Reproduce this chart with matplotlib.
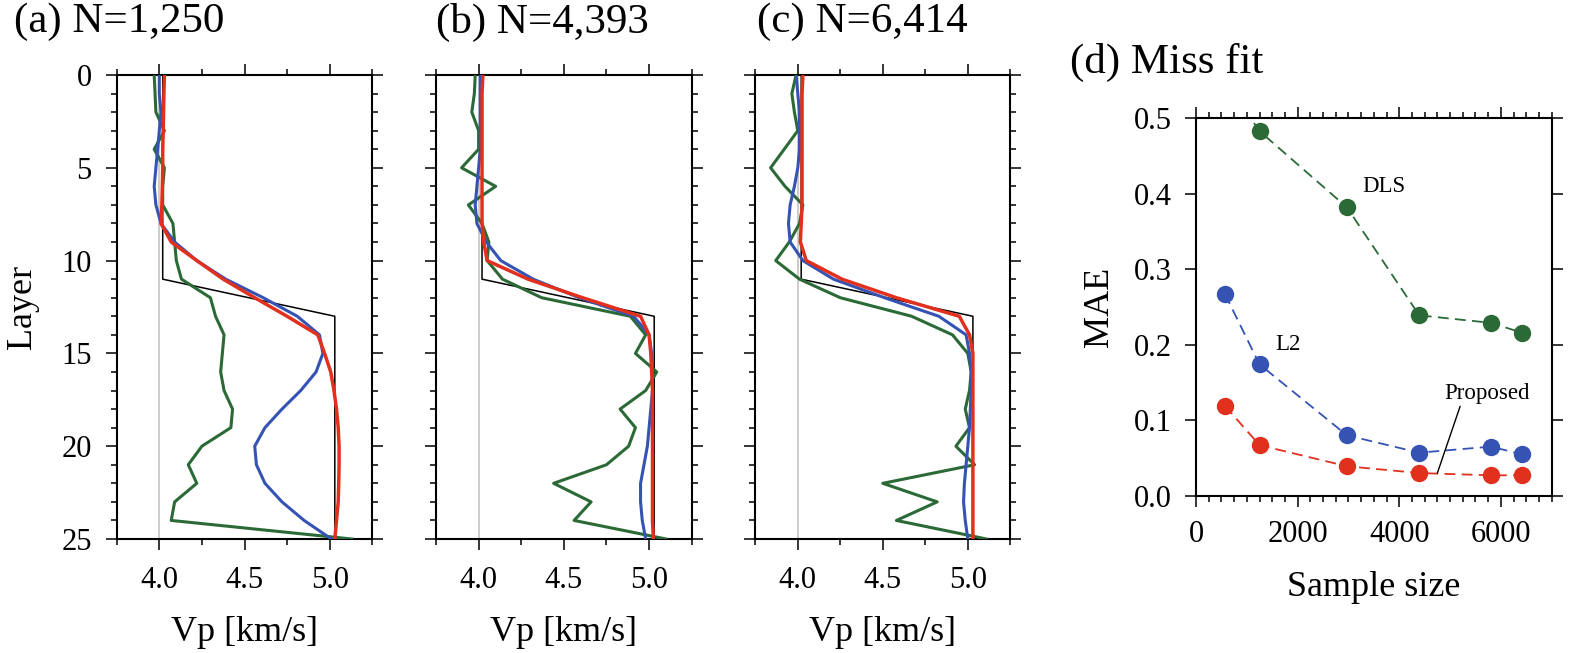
import matplotlib
matplotlib.use("Agg")
import matplotlib.pyplot as plt
from matplotlib.ticker import MultipleLocator, FormatStrFormatter
import numpy as np

plt.rcParams['font.family'] = ['Liberation Serif', 'DejaVu Serif']

# ---------------- data ----------------
layers = list(range(26))
true_vp = [4.02] * 12 + [4.525] + [5.03] * 13
init_vp = [4.0, 4.0]
init_layers = [0, 25]

titles = ["(a) N=1,250", "(b) N=4,393", "(c) N=6,414"]

dls_a = [3.97, 3.975, 3.98, 4.03, 3.97, 4.03, 4.02, 4.02, 4.08, 4.09, 4.10, 4.13, 4.30,
         4.33, 4.38, 4.37, 4.36, 4.38, 4.43, 4.42, 4.25, 4.17, 4.22, 4.09, 4.07, 5.13]
l2_a = [4.0, 4.0, 4.01, 4.0, 3.99, 3.98, 3.97, 3.98, 4.01, 4.09, 4.22, 4.39, 4.61,
        4.81, 4.94, 4.96, 4.92, 4.83, 4.72, 4.62, 4.56, 4.57, 4.62, 4.72, 4.85, 5.01]
prop_a = [4.03, 4.027, 4.025, 4.023, 4.02, 4.02, 4.018, 4.015, 4.01, 4.07, 4.22, 4.375, 4.56,
          4.75, 4.93, 4.97, 5.006, 5.025, 5.04, 5.05, 5.055, 5.055, 5.053, 5.05, 5.04, 5.03]

dls_b = [3.98, 3.975, 3.96, 4.0, 4.0, 3.90, 4.10, 3.94, 4.02, 4.06, 4.05, 4.14, 4.37,
         4.89, 4.98, 4.92, 5.045, 4.98, 4.83, 4.92, 4.88, 4.75, 4.44, 4.66, 4.56, 5.10]
l2_b = [4.01, 4.01, 4.01, 4.01, 4.01, 4.0, 3.99, 3.98, 3.99, 4.045, 4.13, 4.32, 4.59,
        4.91, 5.0, 5.015, 5.02, 5.02, 5.01, 5.0, 4.99, 4.97, 4.95, 4.95, 4.96, 4.98]
prop_b = [4.025, 4.02, 4.02, 4.02, 4.02, 4.02, 4.02, 4.02, 4.02, 4.03, 4.05, 4.29, 4.61,
          4.95, 5.0, 5.01, 5.015, 5.02, 5.02, 5.02, 5.02, 5.02, 5.02, 5.02, 5.02, 5.025]

dls_c = [3.99, 3.965, 3.98, 4.0, 3.92, 3.84, 3.925, 4.03, 4.01, 3.95, 3.87, 4.01, 4.25,
         4.67, 4.91, 5.0, 5.02, 5.01, 4.985, 5.01, 4.93, 5.04, 4.50, 4.82, 4.58, 5.11]
l2_c = [3.99, 4.0, 4.01, 4.01, 4.01, 4.0, 3.98, 3.955, 3.945, 3.955, 4.03, 4.21, 4.51,
        4.83, 4.99, 5.01, 5.02, 5.02, 5.015, 5.01, 5.0, 4.99, 4.98, 4.975, 4.985, 5.0]
prop_c = [4.03, 4.025, 4.025, 4.025, 4.025, 4.025, 4.025, 4.025, 4.02, 4.015, 4.05, 4.26, 4.58,
          4.95, 5.01, 5.03, 5.03, 5.03, 5.03, 5.03, 5.03, 5.03, 5.03, 5.03, 5.03, 5.03]

sample_size = [570, 1250, 2970, 4393, 5800, 6414]
mae_dls = [0.55, 0.483, 0.382, 0.239, 0.229, 0.216]
mae_l2 = [0.267, 0.174, 0.080, 0.057, 0.065, 0.055]
mae_prop = [0.119, 0.067, 0.039, 0.030, 0.027, 0.027]

GREEN = '#2b6a36'
BLUE = '#3553b3'
RED = '#e2301f'

# ---------------- figure ----------------
W, H = 1594, 653
fig = plt.figure(figsize=(W / 100, H / 100), dpi=100)


def px_axes(left, top, right, bottom):
    return fig.add_axes([left / W, 1 - bottom / H, (right - left) / W, (bottom - top) / H])


def style_ticks(ax, pad_x, pad_y):
    for s in ax.spines.values():
        s.set_linewidth(1.5)
    ax.tick_params(which='both', direction='out', top=True, right=True,
                   width=1.1, labelsize=22)
    ax.tick_params(which='major', length=8)
    ax.tick_params(which='minor', length=4.3)
    ax.tick_params(axis='x', pad=pad_x)
    ax.tick_params(axis='y', pad=pad_y)


profiles = [(dls_a, l2_a, prop_a), (dls_b, l2_b, prop_b), (dls_c, l2_c, prop_c)]
boxes = [(116.7, 75, 372.3, 539), (436, 75, 691.7, 539), (755.3, 75, 1010.3, 539)]
title_x = [14, 436, 757]

for i, ((dls, l2, prop), box) in enumerate(zip(profiles, boxes)):
    ax = px_axes(*box)
    ax.plot(init_vp, init_layers, color='#c8c8c8', lw=1.3, zorder=1)
    ax.plot(true_vp, layers, color='black', lw=1.1, zorder=2)
    ax.plot(dls, layers, color=GREEN, lw=2.2, zorder=3)
    ax.plot(l2, layers, color=BLUE, lw=2.2, zorder=4)
    ax.plot(prop, layers, color=RED, lw=2.5, zorder=5)
    ax.set_xlim(3.75, 5.25)
    ax.set_ylim(25, 0)
    ax.xaxis.set_major_locator(MultipleLocator(0.5))
    ax.xaxis.set_minor_locator(MultipleLocator(0.25))
    ax.xaxis.set_major_formatter(FormatStrFormatter('%.1f'))
    ax.yaxis.set_major_locator(MultipleLocator(5))
    ax.yaxis.set_minor_locator(MultipleLocator(1))
    style_ticks(ax, pad_x=11.5, pad_y=10)
    ax.set_xlabel('Vp [km/s]', fontsize=26)
    ax.xaxis.set_label_coords(0.5, -0.165)
    if i == 0:
        ax.set_ylabel('Layer', fontsize=26)
        ax.yaxis.set_label_coords(-0.305, 0.5)
    else:
        ax.tick_params(axis='y', labelleft=False)
    fig.text(title_x[i] / W, 1 - 22 / H, titles[i], fontsize=31, ha='left', va='center')

# ---------------- panel d ----------------
axd = px_axes(1196, 118.3, 1551.7, 495.7)
axd.plot(sample_size, mae_dls, color=GREEN, lw=1.3, ls=(0, (6, 3.5)), marker='o',
         ms=11.5, mec=GREEN, mfc=GREEN)
axd.plot(sample_size, mae_l2, color=BLUE, lw=1.3, ls=(0, (6, 3.5)), marker='o',
         ms=11.5, mec=BLUE, mfc=BLUE)
axd.plot(sample_size, mae_prop, color=RED, lw=1.3, ls=(0, (6, 3.5)), marker='o',
         ms=11.5, mec=RED, mfc=RED)
axd.set_xlim(0, 7000)
axd.set_ylim(0, 0.5)
axd.xaxis.set_major_locator(MultipleLocator(2000))
axd.xaxis.set_minor_locator(MultipleLocator(250))
axd.yaxis.set_major_locator(MultipleLocator(0.1))
axd.yaxis.set_major_formatter(FormatStrFormatter('%.1f'))
style_ticks(axd, pad_x=9.6, pad_y=9.5)
axd.set_xlabel('Sample size', fontsize=26)
axd.xaxis.set_label_coords(0.5, -0.2)
axd.set_ylabel('MAE', fontsize=26)
axd.yaxis.set_label_coords(-0.225, 0.5)

axd.text(3270, 0.409, 'DLS', fontsize=16.5, ha='left', va='center')
axd.text(1560, 0.200, 'L2', fontsize=16.5, ha='left', va='center')
axd.annotate('Proposed', xy=(4750, 0.030), xytext=(4880, 0.136), fontsize=16.5,
             ha='left', va='center',
             arrowprops=dict(arrowstyle='-', color='black', lw=1.0,
                             shrinkA=0, shrinkB=0, relpos=(0.2, 0.0)))

fig.text(1070 / W, 1 - 62 / H, '(d) Miss fit', fontsize=31, ha='left', va='center')

fig.savefig('out.png', dpi=100)
